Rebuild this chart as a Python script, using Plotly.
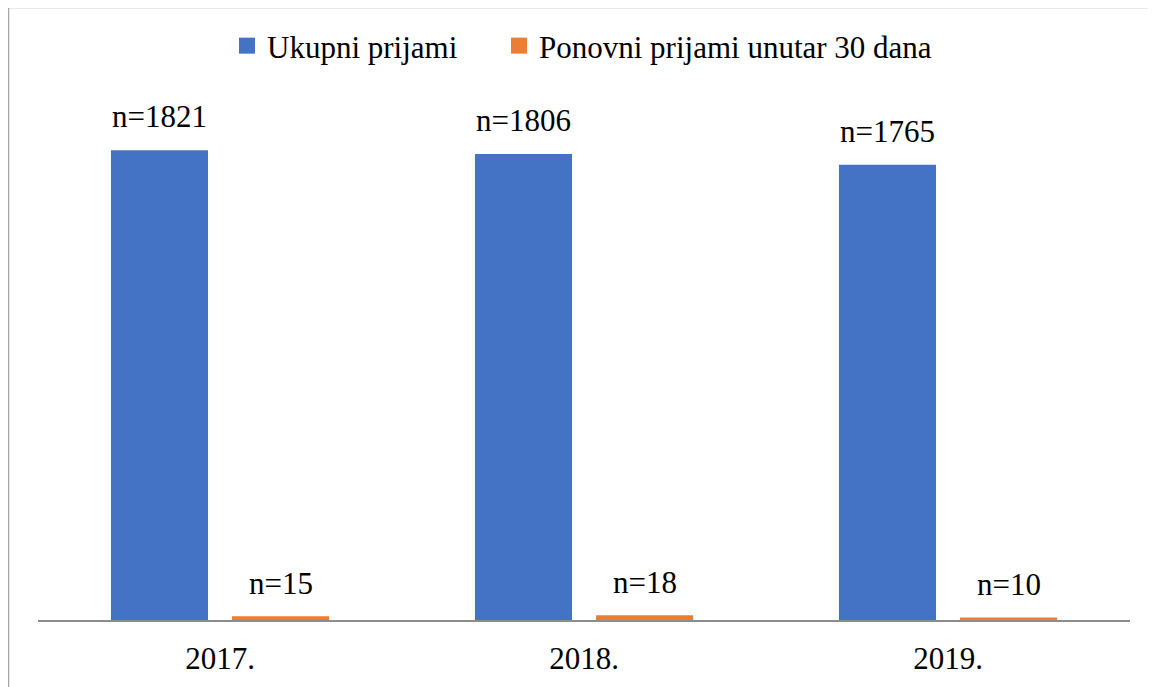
import plotly.graph_objects as go

years = ["2017.", "2018.", "2019."]
ukupni = [1821, 1806, 1765]
ponovni = [15, 18, 10]
series_names = ["Ukupni prijami", "Ponovni prijami unutar 30 dana"]
colors = ["#4472C4", "#ED7D31"]

FONT = "'Liberation Serif', 'Times New Roman', serif"
FS = 31

OFF = 8  # page body margin offset
# target plot area in screen pixels: x 38..1130, y 104..620
L, T = 38 - OFF, 104 - OFF
PW, PH = 1092, 516
R = 1156 - L - PW
B = 687 - T - PH


def px_x(p):
    return (p - 38) / PW


def px_y(p):
    return (620 - p) / PH


fig = go.Figure()
fig.add_trace(go.Bar(x=years, y=ukupni, name=series_names[0], marker_color=colors[0],
                     marker_line_width=0, showlegend=False))
fig.add_trace(go.Bar(x=years, y=ponovni, name=series_names[1], marker_color=colors[1],
                     marker_line_width=0, showlegend=False))
# legend proxies with larger square symbols, one legend each
for name, c, lg in zip(series_names, colors, ["legend", "legend2"]):
    fig.add_trace(go.Scatter(x=[None], y=[None], mode="markers", name=name,
                             marker=dict(symbol="square", size=16, color=c),
                             showlegend=True, hoverinfo="skip", legend=lg))

for vals, shift, ys in ((ukupni, -60.5, 14), (ponovni, 60.5, 13)):
    for i, v in enumerate(vals):
        fig.add_annotation(x=i, y=v, xref="x", yref="y", text=f"n={v}", showarrow=False,
                           xshift=shift, yshift=ys, yanchor="bottom",
                           font=dict(family=FONT, size=FS, color="#000000"))

# outer chart border
fig.add_shape(type="rect", xref="paper", yref="paper",
              x0=px_x(8.5), x1=1.2, y0=-0.3, y1=px_y(7.5),
              line=dict(color="#A6A6A6", width=1.5), fillcolor="rgba(0,0,0,0)", layer="below")

legend_common = dict(orientation="h", yanchor="middle", y=px_y(46),
                     xanchor="left", itemsizing="trace", bgcolor="rgba(0,0,0,0)",
                     font=dict(family=FONT, size=FS), itemclick=False, itemdoubleclick=False)

fig.update_layout(
    width=1156, height=687,
    margin=dict(l=L, r=R, t=T, b=B, autoexpand=False),
    paper_bgcolor="white", plot_bgcolor="white",
    barmode="group", bargap=0.335, bargroupgap=0.198,
    font=dict(family=FONT, size=FS, color="#000000"),
    showlegend=True,
    legend=dict(x=px_x(227), **legend_common),
    legend2=dict(x=px_x(499), **legend_common),
    xaxis=dict(type="category", showline=True, linecolor="#8C8C8C", linewidth=1.5, ticks="",
               showgrid=False, automargin=False,
               tickfont=dict(family=FONT, size=FS), ticklabelstandoff=10),
    yaxis=dict(range=[0, 2000], visible=False, showgrid=False, automargin=False),
)

fig.write_html("out.html")
